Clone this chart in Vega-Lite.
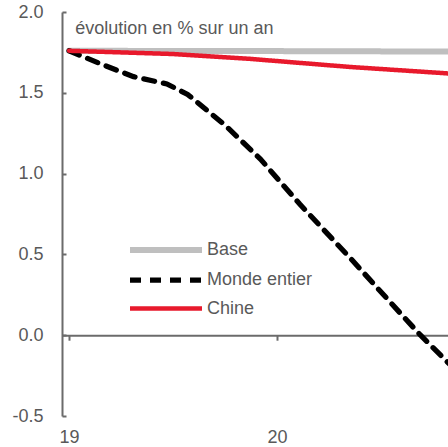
{
  "$schema": "https://vega.github.io/schema/vega-lite/v6.json",
  "width": 386,
  "height": 404,
  "autosize": {"type": "none"},
  "padding": {"left": 62, "top": 12, "right": 0, "bottom": 31},
  "background": "white",
  "config": {
    "view": {"stroke": null},
    "font": "Liberation Sans",
    "axis": {"labelFont": "Liberation Sans", "labelFontSize": 18, "labelColor": "#595959", "domainColor": "#6b6b6b", "tickColor": "#6b6b6b", "domainWidth": 2, "tickWidth": 2, "grid": false, "title": null},
    "legend": {"title": null, "orient": "none", "legendX": 65, "legendY": 220, "symbolType": "M-1,0H3.8", "symbolSize": 900,
      "labelFontSize": 18, "labelFont": "Liberation Sans", "labelColor": "#595959", "labelOffset": 44, "rowPadding": -6}
  },
  "layer": [
    {
      "data": {
        "values": [
          {"t": 19.0, "v": 1.76, "s": "Base"},
          {"t": 20.0, "v": 1.758, "s": "Base"},
          {"t": 20.9, "v": 1.755, "s": "Base"},
          {"t": 19.0, "v": 1.76, "s": "Monde entier"},
          {"t": 19.15, "v": 1.68, "s": "Monde entier"},
          {"t": 19.31, "v": 1.6, "s": "Monde entier"},
          {"t": 19.47, "v": 1.555, "s": "Monde entier"},
          {"t": 19.57, "v": 1.49, "s": "Monde entier"},
          {"t": 19.75, "v": 1.3, "s": "Monde entier"},
          {"t": 19.92, "v": 1.09, "s": "Monde entier"},
          {"t": 20.11, "v": 0.81, "s": "Monde entier"},
          {"t": 20.35, "v": 0.48, "s": "Monde entier"},
          {"t": 20.59, "v": 0.14, "s": "Monde entier"},
          {"t": 20.69, "v": 0.0, "s": "Monde entier"},
          {"t": 20.9, "v": -0.27, "s": "Monde entier"},
          {"t": 19.0, "v": 1.76, "s": "Chine"},
          {"t": 19.5, "v": 1.74, "s": "Chine"},
          {"t": 19.87, "v": 1.71, "s": "Chine"},
          {"t": 20.35, "v": 1.66, "s": "Chine"},
          {"t": 20.82, "v": 1.62, "s": "Chine"},
          {"t": 20.9, "v": 1.613, "s": "Chine"}
        ]
      },
      "mark": {"type": "line", "clip": true, "strokeCap": "round"},
      "encoding": {
        "x": {"field": "t", "type": "quantitative", "scale": {"domain": [18.966, 20.822], "nice": false, "zero": false},
          "axis": {"values": [19, 20], "format": "d", "offset": -80.8, "tickSize": 5, "labelPadding": 88, "labelFlush": false}},
        "y": {"field": "v", "type": "quantitative", "scale": {"domain": [-0.5, 2.0], "nice": false},
          "axis": {"values": [-0.5, 0, 0.5, 1, 1.5, 2], "tickSize": -4, "labelPadding": 23,
            "labelExpr": "datum.value < 0 ? '-' + format(-datum.value, '.1f') : format(datum.value, '.1f')"}},
        "color": {"field": "s", "type": "nominal",
          "scale": {"domain": ["Base", "Monde entier", "Chine"], "range": ["#bfbfbf", "#000000", "#e8192c"]}},
        "strokeDash": {"field": "s", "type": "nominal",
          "scale": {"domain": ["Base", "Monde entier", "Chine"], "range": [[1, 0], [11, 9], [1, 0]]}},
        "strokeWidth": {"field": "s", "type": "nominal",
          "scale": {"domain": ["Base", "Monde entier", "Chine"], "range": [6, 4.5, 4]}},
        "order": {"field": "t", "type": "quantitative"}
      }
    },
    {
      "data": {"values": [{"label": "évolution en % sur un an"}]},
      "mark": {"type": "text", "align": "left", "baseline": "middle", "fontSize": 18, "font": "Liberation Sans", "fill": "#595959"},
      "encoding": {
        "text": {"field": "label", "type": "nominal"},
        "x": {"datum": 19.03, "type": "quantitative"},
        "y": {"datum": 1.894, "type": "quantitative"}
      }
    }
  ]
}
